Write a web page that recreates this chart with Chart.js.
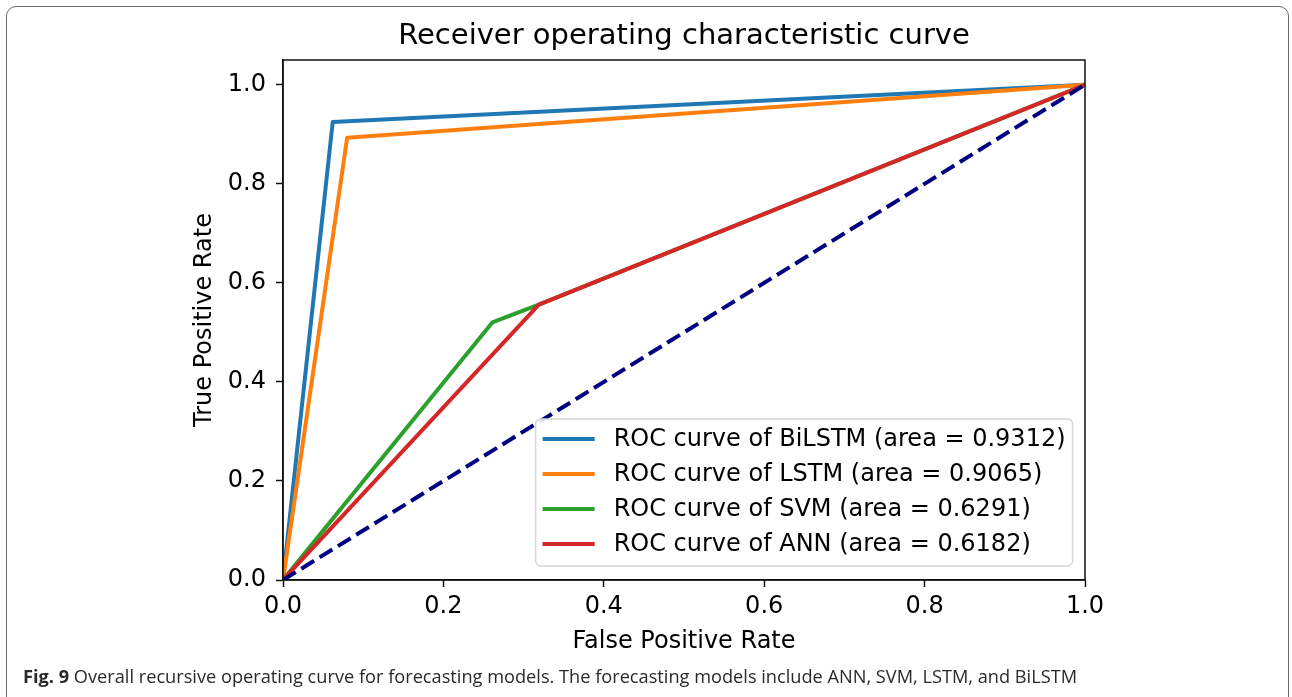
<!DOCTYPE html>
<html lang="en">
  <head>
    <meta charset="UTF-8" />
    <title>ROC curve</title>
    <script src="https://cdn.jsdelivr.net/npm/chart.js@4.4.1/dist/chart.umd.min.js"></script>
    <style>
      html,
      body {
        margin: 0;
        padding: 0;
        background: #fff;
        overflow: hidden;
      }
      .frame {
        position: absolute;
        left: 6px;
        top: 6px;
        width: 1281px;
        height: 720px;
        border: 1.5px solid #6b6b6b;
        border-radius: 10px;
      }
      .chart-box {
        position: absolute;
        left: 0;
        top: 0;
        width: 1292px;
        height: 697px;
      }
      .caption {
        position: absolute;
        left: 23px;
        top: 666px;
        font-family: "Open Sans", sans-serif;
        font-size: 18.2px;
        line-height: 20px;
        color: #2a2a2a;
        white-space: nowrap;
      }
      .caption b {
        font-weight: 700;
      }
    </style>
  </head>
  <body>
    <div class="frame"></div>
    <div class="chart-box">
      <canvas id="roc" width="1292" height="697"></canvas>
    </div>
    <div class="caption">
      <b>Fig. 9</b> Overall recursive operating curve for forecasting models.
      The forecasting models include ANN, SVM, LSTM, and BiLSTM
    </div>
    <script>
      // valores
      const fprBiLSTM = [0, 0.062, 1];
      const tprBiLSTM = [0, 0.925, 1];
      const fprLSTM = [0, 0.08, 1];
      const tprLSTM = [0, 0.893, 1];
      const fprSVM = [0, 0.261, 0.319, 1];
      const tprSVM = [0, 0.52, 0.556, 1];
      const fprANN = [0, 0.319, 1];
      const tprANN = [0, 0.556, 1];
      const fprChance = [0, 1];
      const tprChance = [0, 1];

      const models = ["BiLSTM", "LSTM", "SVM", "ANN"];
      const areas = ["0.9312", "0.9065", "0.6291", "0.6182"];
      const modelColors = ["#1f77b4", "#ff7f0e", "#2ca02c", "#d62728"];

      const xTicks = [0, 0.2, 0.4, 0.6, 0.8, 1.0];
      const yTicks = [0, 0.2, 0.4, 0.6, 0.8, 1.0];

      const fontFamily = "'DejaVu Sans', sans-serif";

      function toPoints(xs, ys) {
        return xs.map((x, i) => ({ x: x, y: ys[i] }));
      }

      const curves = [
        toPoints(fprBiLSTM, tprBiLSTM),
        toPoints(fprLSTM, tprLSTM),
        toPoints(fprSVM, tprSVM),
        toPoints(fprANN, tprANN),
      ];

      const datasets = models.map((m, i) => ({
        label: "ROC curve of " + m + " (area = " + areas[i] + ")",
        data: curves[i],
        borderColor: modelColors[i],
        borderWidth: 4,
        pointRadius: 0,
        tension: 0,
        fill: false,
        borderJoinStyle: "round",
        order: models.length - i,
      }));

      datasets.push({
        label: "chance",
        data: toPoints(fprChance, tprChance),
        borderColor: "#000080",
        borderWidth: 4,
        borderDash: [15, 6.5],
        pointRadius: 0,
        fill: false,
        order: 0,
      });

      // moldura completa + legenda dentro do grafico
      const frameAndLegend = {
        id: "frameAndLegend",
        afterDatasetsDraw(chart) {
          const ctx = chart.ctx;
          const a = chart.chartArea;
          ctx.save();
          ctx.strokeStyle = "#111";
          ctx.lineWidth = 1.5;
          ctx.strokeRect(a.left, a.top, a.right - a.left, a.bottom - a.top);

          const x0 = chart.scales.x.getPixelForValue(0.315);
          const y0 = chart.scales.y.getPixelForValue(0.325);
          const w = 537;
          const h = 147;
          ctx.beginPath();
          ctx.roundRect(x0, y0, w, h, 5);
          ctx.fillStyle = "rgba(255,255,255,0.9)";
          ctx.fill();
          ctx.strokeStyle = "#d6d6d6";
          ctx.lineWidth = 1.5;
          ctx.stroke();

          ctx.font = "24px " + fontFamily;
          ctx.textBaseline = "middle";
          ctx.textAlign = "left";
          for (let i = 0; i < models.length; i++) {
            const yy = y0 + 20 + i * 35;
            ctx.beginPath();
            ctx.moveTo(x0 + 7, yy);
            ctx.lineTo(x0 + 59, yy);
            ctx.strokeStyle = modelColors[i];
            ctx.lineWidth = 4;
            ctx.stroke();
            ctx.fillStyle = "#000";
            ctx.fillText(datasets[i].label, x0 + 78, yy + 1);
          }
          ctx.restore();
        },
      };

      new Chart(document.getElementById("roc"), {
        type: "line",
        data: { datasets: datasets },
        options: {
          responsive: false,
          animation: false,
          layout: { padding: { left: 76, right: 0, top: 0, bottom: 0 } },
          plugins: {
            legend: { display: false },
            tooltip: { enabled: false },
            title: {
              display: true,
              text: "Receiver operating characteristic curve",
              color: "#000",
              font: { family: fontFamily, size: 29, weight: "normal" },
              padding: { top: 19, bottom: 6.2 },
            },
          },
          scales: {
            x: {
              type: "linear",
              min: 0,
              max: 1,
              afterBuildTicks: (s) => {
                s.ticks = xTicks.map((v) => ({ value: v }));
              },
              afterFit: (s) => {
                s.height = 117;
              },
              ticks: {
                color: "#000",
                padding: 5,
                font: { family: fontFamily, size: 24 },
                callback: (v) => v.toFixed(1),
              },
              grid: {
                drawOnChartArea: false,
                tickLength: 7,
                tickColor: "#111",
                tickWidth: 1.5,
              },
              border: { color: "#111", width: 1.5 },
              title: {
                display: true,
                text: "False Positive Rate",
                color: "#000",
                font: { family: fontFamily, size: 24 },
                padding: { top: 0, bottom: 40.5 },
              },
            },
            y: {
              type: "linear",
              min: 0,
              max: 1.05,
              afterBuildTicks: (s) => {
                s.ticks = yTicks.map((v) => ({ value: v }));
              },
              afterFit: (s) => {
                s.width = 207;
              },
              ticks: {
                color: "#000",
                padding: 10,
                font: { family: fontFamily, size: 24 },
                callback: (v) => v.toFixed(1),
              },
              grid: {
                drawOnChartArea: false,
                tickLength: 7,
                tickColor: "#111",
                tickWidth: 1.5,
              },
              border: { color: "#111", width: 1.5 },
              title: {
                display: true,
                text: "True Positive Rate",
                color: "#000",
                font: { family: fontFamily, size: 24 },
                padding: { top: 114, bottom: 0 },
              },
            },
            yRight: {
              type: "linear",
              position: "right",
              display: true,
              afterFit: (s) => {
                s.width = 207;
              },
              ticks: { display: false },
              grid: { display: false },
              border: { display: false },
            },
          },
        },
        plugins: [frameAndLegend],
      });
    </script>
  </body>
</html>
